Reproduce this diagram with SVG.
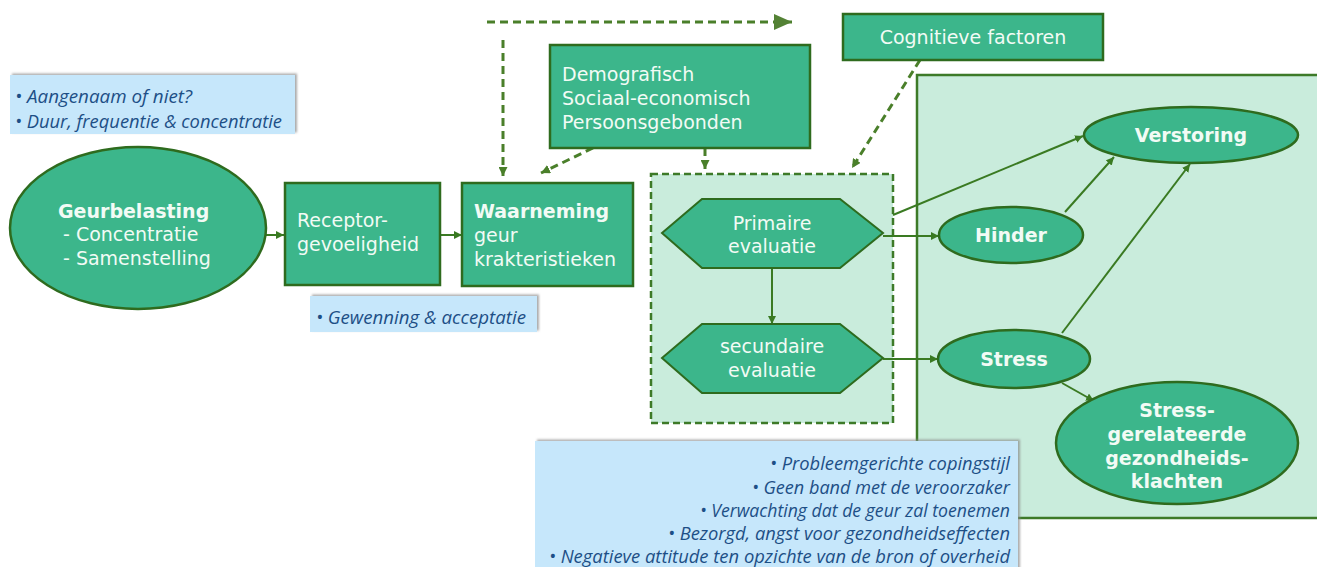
<svg xmlns="http://www.w3.org/2000/svg" width="1317" height="567" viewBox="0 0 1317 567">
<style>
.node{fill:#3cb68b;stroke:#2e6b1e;stroke-width:2.5}
.hex{fill:#3cb68b;stroke:#2e6b1e;stroke-width:2}
.t{font-family:"DejaVu Sans",Verdana,sans-serif;font-size:19px;fill:#f2fbf5}
.b{font-weight:bold}
.c{text-anchor:middle}
.note{fill:#c6e7fb;filter:url(#sh)}
.nt{font-family:"Open Sans","Noto Sans",sans-serif;font-style:italic;font-size:17.5px;fill:#1d4f86}
.solid{stroke:#3a7a22;stroke-width:2;fill:none;marker-end:url(#ah)}
.dash{stroke:#4a7f2a;stroke-width:3;fill:none;stroke-dasharray:8 5}
</style>
<defs>
<marker id="ah" markerUnits="userSpaceOnUse" viewBox="0 0 8 8" refX="8" refY="4" markerWidth="8" markerHeight="8" orient="auto"><path d="M0,0 L8,4 L0,8 z" fill="#3a7a22"/></marker>
<marker id="dh" markerUnits="userSpaceOnUse" viewBox="0 0 9 9" refX="9" refY="4.5" markerWidth="9" markerHeight="9" orient="auto"><path d="M0,0 L9,4.5 L0,9 z" fill="#4a7f2a"/></marker>
<marker id="bh" markerUnits="userSpaceOnUse" viewBox="0 0 18 16" refX="18" refY="8" markerWidth="18" markerHeight="16" orient="auto"><path d="M0,0 L18,8 L0,16 z" fill="#548235"/></marker>
<filter id="sh" x="-5%" y="-20%" width="110%" height="140%"><feDropShadow dx="2" dy="-1.5" stdDeviation="1.2" flood-color="#888" flood-opacity="0.7"/></filter>
</defs>
<rect width="1317" height="567" fill="#fff"/>

<g id="outcome-area">
<rect x="917" y="75" width="420" height="443" fill="#c9ecdc" stroke="#3d7a28" stroke-width="2.5"/>
</g>

<g id="evaluation-area">
<rect x="651" y="174" width="242" height="249" fill="#c9ecdc" stroke="#3d7a28" stroke-width="2.5" stroke-dasharray="7 4"/>
</g>

<g id="connectors">
<line class="solid" x1="266" y1="235" x2="284" y2="235"/>
<line class="solid" x1="440" y1="235" x2="462" y2="235"/>
<line class="dash" x1="487" y1="22" x2="792" y2="22" style="marker-end:url(#bh)"/>
<line class="dash" x1="503" y1="40" x2="503" y2="176" style="marker-end:url(#dh)"/>
<line class="dash" x1="593" y1="148" x2="541" y2="173" style="marker-end:url(#dh)"/>
<line class="dash" x1="705" y1="148" x2="705" y2="169" style="marker-end:url(#dh)"/>
<line class="dash" x1="920" y1="60" x2="852" y2="168" style="marker-end:url(#dh)"/>
<line class="solid" x1="772" y1="268" x2="772" y2="324"/>
<line class="solid" x1="893" y1="215" x2="1083" y2="136"/>
<line class="solid" x1="883" y1="236" x2="939" y2="236"/>
<line class="solid" x1="1065" y1="212" x2="1114" y2="157"/>
<line class="solid" x1="1062" y1="333" x2="1190" y2="164"/>
<line class="solid" x1="883" y1="359" x2="938" y2="359"/>
<line class="solid" x1="1062" y1="383" x2="1094" y2="401"/>
</g>

<g id="geurbelasting">
<ellipse class="node" cx="138" cy="228" rx="128" ry="81"/>
<text class="t b" x="58" y="218">Geurbelasting</text>
<text class="t" x="63" y="241">- Concentratie</text>
<text class="t" x="63" y="265">- Samenstelling</text>
</g>

<g id="receptor">
<rect class="node" x="285" y="183" width="155" height="102"/>
<text class="t" x="297" y="227">Receptor-</text>
<text class="t" x="297" y="251">gevoeligheid</text>
</g>

<g id="waarneming">
<rect class="node" x="462" y="183" width="171" height="103"/>
<text class="t b" x="474" y="218">Waarneming</text>
<text class="t" x="474" y="242">geur</text>
<text class="t" x="474" y="266">krakteristieken</text>
</g>

<g id="demografisch">
<rect class="node" x="550" y="45" width="260" height="103"/>
<text class="t" x="562" y="81">Demografisch</text>
<text class="t" x="562" y="105">Sociaal-economisch</text>
<text class="t" x="562" y="129">Persoonsgebonden</text>
</g>

<g id="cognitieve">
<rect class="node" x="843" y="14" width="260" height="46"/>
<text class="t c" x="973" y="44">Cognitieve factoren</text>
</g>

<g id="primaire">
<polygon class="hex" points="662,233 702,199 840,199 883,233 840,268 702,268"/>
<text class="t c" x="772" y="230">Primaire</text>
<text class="t c" x="772" y="253">evaluatie</text>
</g>

<g id="secundaire">
<polygon class="hex" points="662,358 702,324 840,324 883,358 840,393 702,393"/>
<text class="t c" x="772" y="353">secundaire</text>
<text class="t c" x="772" y="377">evaluatie</text>
</g>

<g id="verstoring">
<ellipse class="node" cx="1191" cy="135" rx="107" ry="28"/>
<text class="t b c" x="1191" y="142" font-size="20">Verstoring</text>
</g>

<g id="hinder">
<ellipse class="node" cx="1011" cy="235" rx="72" ry="28"/>
<text class="t b c" x="1011" y="242" font-size="20">Hinder</text>
</g>

<g id="stress">
<ellipse class="node" cx="1014" cy="359" rx="76" ry="29"/>
<text class="t b c" x="1014" y="366" font-size="20">Stress</text>
</g>

<g id="klachten">
<ellipse class="node" cx="1177" cy="443" rx="121" ry="61"/>
<text class="t b c" x="1177" y="417" font-size="20">Stress-</text>
<text class="t b c" x="1177" y="441" font-size="20">gerelateerde</text>
<text class="t b c" x="1177" y="465" font-size="20">gezondheids-</text>
<text class="t b c" x="1177" y="488" font-size="20">klachten</text>
</g>

<g id="note-geur">
<rect class="note" x="10" y="75" width="285" height="59"/>
<text class="nt" x="15" y="103" textLength="177" lengthAdjust="spacingAndGlyphs">• Aangenaam of niet?</text>
<text class="nt" x="15" y="128" textLength="267" lengthAdjust="spacingAndGlyphs">• Duur, frequentie &amp; concentratie</text>
</g>

<g id="note-gewenning">
<rect class="note" x="310" y="296" width="227" height="36"/>
<text class="nt" x="316" y="324" textLength="210" lengthAdjust="spacingAndGlyphs">• Gewenning &amp; acceptatie</text>
</g>

<g id="note-coping">
<rect class="note" x="535" y="441" width="483" height="140"/>
<text class="nt" x="770" y="470" textLength="240" lengthAdjust="spacingAndGlyphs">• Probleemgerichte copingstijl</text>
<text class="nt" x="752" y="494" textLength="258" lengthAdjust="spacingAndGlyphs">• Geen band met de veroorzaker</text>
<text class="nt" x="700" y="517" textLength="310" lengthAdjust="spacingAndGlyphs">• Verwachting dat de geur zal toenemen</text>
<text class="nt" x="668" y="540" textLength="342" lengthAdjust="spacingAndGlyphs">• Bezorgd, angst voor gezondheidseffecten</text>
<text class="nt" x="549" y="563" textLength="461" lengthAdjust="spacingAndGlyphs">• Negatieve attitude ten opzichte van de bron of overheid</text>
</g>
</svg>
